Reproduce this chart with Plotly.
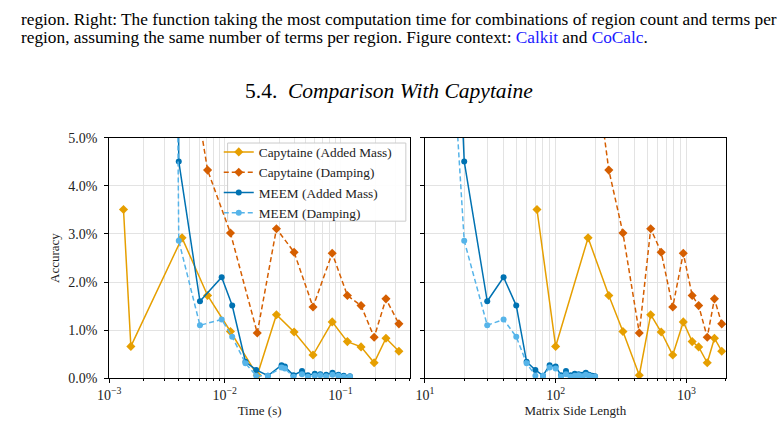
import plotly.graph_objects as go

# ---------------- data ----------------
cap_time = [0.00133, 0.00154, 0.00427, 0.0071, 0.0112, 0.0191, 0.028, 0.0398, 0.058, 0.085, 0.115, 0.151, 0.196, 0.248, 0.321]
cap_size = [72, 100, 177, 255, 327, 436, 533, 641, 786, 946, 1106, 1240, 1442, 1637, 1862]
cap_added = [3.51, 0.66, 2.92, 1.72, 0.97, 0.06, 1.32, 0.96, 0.48, 1.17, 0.76, 0.65, 0.32, 0.83, 0.56]
cap_damp = [30.0, 20.0, 7.6, 4.33, 3.02, 0.94, 3.11, 2.62, 1.48, 2.60, 1.72, 1.51, 0.85, 1.65, 1.13]

meem_size = [10, 20, 30, 40, 50, 60, 70, 80, 90, 100, 110, 120, 130, 140, 150, 160, 170, 180, 190, 200]
meem_time = [0.0036, 0.0040, 0.0061, 0.0094, 0.0116, 0.0151, 0.0187, 0.0236, 0.0310, 0.0331, 0.0393,
             0.0466, 0.0524, 0.0601, 0.067, 0.0754, 0.0855, 0.0962, 0.107, 0.121]
meem_added = [24.0, 4.51, 1.60, 2.10, 1.51, 0.34, 0.17, 0.05, 0.27, 0.24, 0.06, 0.15, 0.06, 0.09, 0.08,
              0.07, 0.11, 0.07, 0.05, 0.04]
meem_damp = [16.0, 2.86, 1.10, 1.22, 0.86, 0.31, 0.05, 0.05, 0.22, 0.20, 0.03, 0.08, 0.03, 0.05, 0.06,
             0.04, 0.07, 0.05, 0.03, 0.03]

series_names = ["Capytaine (Added Mass)", "Capytaine (Damping)", "MEEM (Added Mass)", "MEEM (Damping)"]
left_ticks = [0.001, 0.01, 0.1]
left_ticktext = ["10<sup>−3</sup>", "10<sup>−2</sup>", "10<sup>−1</sup>"]
right_ticks = [10, 100, 1000]
right_ticktext = ["10<sup>1</sup>", "10<sup>2</sup>", "10<sup>3</sup>"]
y_ticks = [0, 1, 2, 3, 4, 5]

# ---------------- style ----------------
C_CAP_A = "#E69F00"
C_CAP_D = "#D55E00"
C_MEEM_A = "#0072B2"
C_MEEM_D = "#56B4E9"
FONT = "Liberation Serif"
W, H = 778, 425
DASH = "5px,3px"


def minor_vals(lo_exp, hi_exp, vmax):
    out = []
    for e in range(lo_exp, hi_exp + 1):
        for m in range(2, 10):
            v = m * 10 ** e
            if v <= vmax:
                out.append(v)
    return out


fig = go.Figure()

specs = [
    (series_names[0], cap_added, C_CAP_A, "solid", "diamond", 7, cap_time, cap_size),
    (series_names[1], cap_damp, C_CAP_D, DASH, "diamond", 7, cap_time, cap_size),
    (series_names[2], meem_added, C_MEEM_A, "solid", "circle", 6, meem_time, meem_size),
    (series_names[3], meem_damp, C_MEEM_D, DASH, "circle", 6, meem_time, meem_size),
]

for name, yv, col, dash, sym, ms, xt, xs in specs:
    fig.add_trace(go.Scatter(x=xt, y=yv, name=name, mode="lines+markers",
                             line=dict(color=col, width=1.5, dash=dash),
                             marker=dict(symbol=sym, size=ms, color=col),
                             xaxis="x", yaxis="y", showlegend=True))
for name, yv, col, dash, sym, ms, xt, xs in specs:
    fig.add_trace(go.Scatter(x=xs, y=yv, name=name, mode="lines+markers",
                             line=dict(color=col, width=1.5, dash=dash),
                             marker=dict(symbol=sym, size=ms, color=col),
                             xaxis="x2", yaxis="y2", showlegend=False))

x0a, x1a = 98.7 / W, 404.3 / W
x0b, x1b = 419.3 / W, 725.0 / W
yb, yt = 1 - 384.7 / H, 1 - 135.7 / H

grid_col = "#e3e3e3"
axis_common = dict(showline=True, linecolor="black", linewidth=1, mirror=True,
                   ticks="outside", ticklen=4, tickcolor="black",
                   tickfont=dict(family=FONT, size=14, color="#222"),
                   showgrid=True, gridcolor=grid_col, gridwidth=1, zeroline=False)

fig.update_layout(
    width=W, height=H, margin=dict(l=0, r=0, t=0, b=0),
    paper_bgcolor="white", plot_bgcolor="white",
    font=dict(family=FONT, color="#222"),
    xaxis=dict(type="log", domain=[x0a, x1a], range=[-3, -0.397], anchor="y",
               tickmode="array", tickvals=left_ticks, ticktext=left_ticktext,
               minor=dict(tickmode="array", tickvals=minor_vals(-3, -1, 0.4), ticks="outside",
                          ticklen=2, tickcolor="black", showgrid=True, gridcolor=grid_col),
               title=dict(text="Time (s)", font=dict(family=FONT, size=13, color="#222"), standoff=3),
               **axis_common),
    xaxis2=dict(type="log", domain=[x0b, x1b], range=[1, 3.301], anchor="y2",
                tickmode="array", tickvals=right_ticks, ticktext=right_ticktext,
                minor=dict(tickmode="array", tickvals=minor_vals(1, 3, 2000), ticks="outside",
                           ticklen=2, tickcolor="black", showgrid=True, gridcolor=grid_col),
                title=dict(text="Matrix Side Length", font=dict(family=FONT, size=13, color="#222"), standoff=3),
                **axis_common),
    yaxis=dict(domain=[yb, yt], range=[0, 5], anchor="x",
               tickmode="array", tickvals=y_ticks, ticktext=[f"{v:.1f}%" for v in y_ticks],
               ticklabelstandoff=4,
               title=dict(text="Accuracy", font=dict(family=FONT, size=13, color="#222"), standoff=5),
               **axis_common),
    yaxis2=dict(domain=[yb, yt], range=[0, 5], anchor="x2",
                tickmode="array", tickvals=y_ticks, showticklabels=False,
                **axis_common),
    legend=dict(x=210 / W, y=1 - 134.5 / H, xanchor="left", yanchor="top",
                bgcolor="rgba(0,0,0,0)", borderwidth=0,
                font=dict(family=FONT, size=13.3, color="#222"), tracegroupgap=0,
                itemwidth=30),
)

# legend frame (drawn above the data, below the legend entries)
fig.add_shape(type="rect", xref="paper", yref="paper",
              x0=219 / W, x1=400 / W, y0=1 - 222 / H, y1=1 - 141 / H,
              fillcolor="rgba(255,255,255,0.9)", line=dict(color="#cccccc", width=1), layer="above")

# page text
ann = [
    dict(text="region. Right: The function taking the most computation time for combinations of region count and terms per",
         x=7 / W, y=1 - 13 / H, size=17.3),
    dict(text="region, assuming the same number of terms per region. Figure context: "
              "<span style='color:#1a1aff'>Calkit</span> and <span style='color:#1a1aff'>CoCalc</span>.",
         x=7 / W, y=1 - 32 / H, size=17.3),
]
for a in ann:
    fig.add_annotation(text=a["text"], x=a["x"], y=a["y"], xref="paper", yref="paper",
                       xanchor="left", yanchor="middle", showarrow=False,
                       font=dict(family=FONT, size=a["size"], color="black"))
fig.add_annotation(text="5.4.  <i>Comparison With Capytaine</i>", x=383 / W, y=1 - 87 / H,
                   xref="paper", yref="paper", xanchor="center", yanchor="middle", showarrow=False,
                   font=dict(family=FONT, size=21.5, color="black"))

fig.write_html("out.html")
